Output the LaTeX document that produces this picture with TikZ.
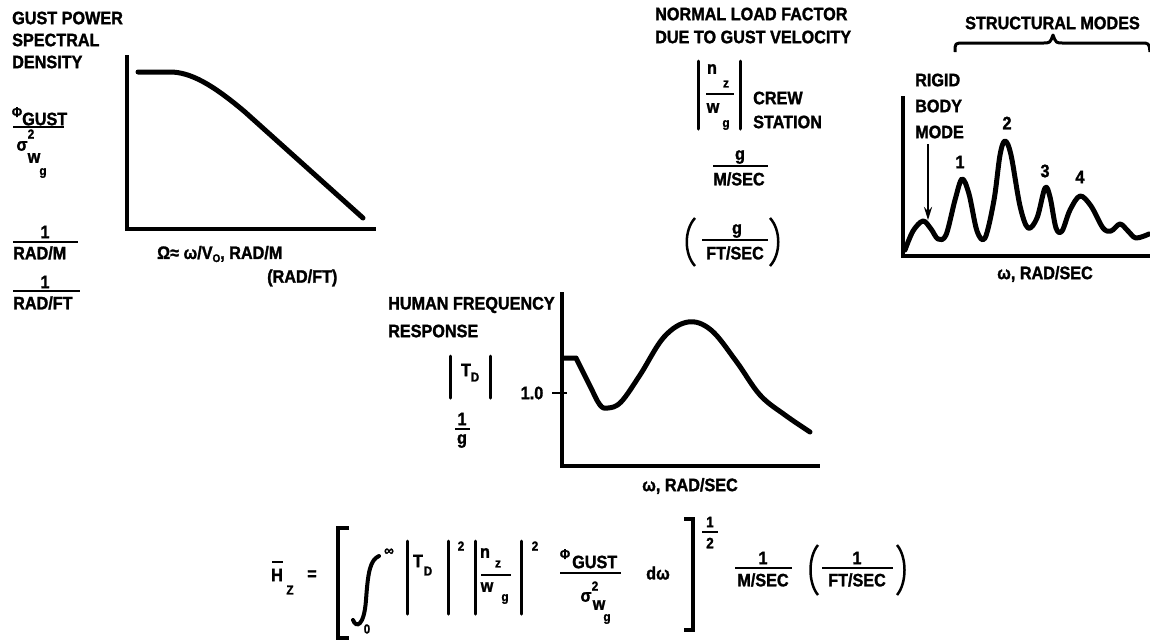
\documentclass[tikz,border=0pt]{standalone}
\usepackage{fontspec}
\setmainfont{Liberation Sans}[FakeStretch=0.9, BoldFeatures={FakeBold=1.5}]
\usetikzlibrary{arrows.meta}
\tikzset{
  lbl/.style={font=\bfseries\fontsize{18}{20}\selectfont, inner sep=0pt, anchor=west},
  lblc/.style={lbl, anchor=center},
  sub/.style={font=\bfseries\fontsize{13}{14}\selectfont, inner sep=0pt, anchor=center},
  mid/.style={font=\bfseries\fontsize{15}{16}\selectfont, inner sep=0pt, anchor=center},
  ax/.style={line width=4.5pt, line cap=rect},
  crv/.style={line width=5pt, line join=round, line cap=round},
  fr/.style={line width=2pt},
  vb/.style={line width=3pt, line cap=round},
  brk/.style={line width=3.5pt, line join=miter},
  paren/.style={line width=2.5pt},
}
\begin{document}
\begin{tikzpicture}[x=1pt,y=-1pt]
\useasboundingbox[fill=white] (0,0) rectangle (1150,641);

% ---------------- top-left: gust PSD ----------------
\node[lbl] (gp) at (12,18) {GUST POWER};
\node[lbl] (sp) at (12,40) {SPECTRAL};
\node[lbl] (dn) at (12,62) {DENSITY};
\node[sub,font=\bfseries\fontsize{14}{14}\selectfont] (phi1) at (17,112) {Φ};
\node[lbl] (gu1) at (22,119) {GUST};
\draw[fr] (13,127) -- (64,127);
\node[lblc] (sig1) at (22,146) {σ};
\node[sub] (two1) at (31,134) {2};
\node[lblc] (w1) at (34,158) {w};
\node[sub] (g1) at (43,173) {g};
\node[lblc] (one1) at (45,232) {1};
\draw[fr] (13,242) -- (78,242);
\node[lbl] (radm) at (13,253) {RAD/M};
\node[lblc] (one2) at (45,282) {1};
\draw[fr] (13,291) -- (80,291);
\node[lbl] (radft) at (13,303) {RAD/FT};

\draw[ax] (127,57) -- (127,229) -- (374,229);
\draw[crv] (138,72) -- (170,72) .. controls (190,72) and (212,84) .. (245,112) -- (363,218);
\node[lbl] (omg) at (157,254) {Ω≈ ω/V\raisebox{-3pt}{\fontsize{11}{11}\selectfont O}, RAD/M};
\node[lbl] (radft2) at (267,278) {(RAD/FT)};

% ---------------- top-middle: load factor ----------------
\node[lbl] (nlf) at (655,14) {NORMAL LOAD FACTOR};
\node[lbl] (dtg) at (655,37) {DUE TO GUST VELOCITY};
\draw[vb] (698,61) -- (698,129);
\draw[vb] (740,61) -- (740,129);
\node[lblc] (n1) at (712,69) {n};
\node[sub] (z1) at (726,84) {z};
\draw[fr] (706,94) -- (734,94);
\node[lblc] (w2) at (713,108) {w};
\node[sub] (g2) at (726,125) {g};
\node[lbl] (crew) at (753,98) {CREW};
\node[lbl] (stat) at (753,122) {STATION};
\node[lblc] (g3) at (740,157) {g};
\draw[fr] (713,166) -- (768,166);
\node[lblc] (msec) at (739,179) {M/SEC};
\node[lblc] (g4) at (737,231) {g};
\draw[fr] (702,240) -- (768,240);
\node[lblc] (ftsec) at (735,253) {FT/SEC};
\draw[paren] (695,218) .. controls (684,230) and (684,254) .. (695,266);
\draw[paren] (770,218) .. controls (781,230) and (781,254) .. (770,266);

% ---------------- top-right: structural modes ----------------
\node[lbl] (strm) at (965,23) {STRUCTURAL MODES};
\draw[line width=3pt, line join=round] (955,52) .. controls (955,43) .. (964,43) -- (1043,43)
   .. controls (1050,43) .. (1053,35) .. controls (1056,43) .. (1063,43) -- (1141,43)
   .. controls (1149,43) .. (1150,52);
\node[lbl] (rig) at (915,80) {RIGID};
\node[lbl] (body) at (915,106) {BODY};
\node[lbl] (mode) at (915,132) {MODE};
\coordinate (arS) at (928,144);
\coordinate (arE) at (928,220);
\draw[line width=2.5pt, -{Stealth[length=13pt,width=8pt]}] (arS) -- (arE);
\draw[ax] (903,98) -- (903,256) -- (1150,256);
\draw[crv] plot[smooth, tension=0.55] coordinates {
 (905,250) (913,231) (923,221) (931,229) (938,239) (946,235) (955,200) (962,179)
 (969,194) (977,231) (985,238) (994,200) (1000,155) (1005,141) (1011,155) (1020,206)
 (1028,228) (1037,218) (1045,188) (1050,197) (1056,228) (1062,231) (1070,210)
 (1080,196) (1091,206) (1103,228) (1111,231) (1120,224) (1128,231) (1136,238) (1149,234)};
\node[lblc] (m1) at (960,162) {1};
\node[lblc] (m2) at (1007,123) {2};
\node[lblc] (m3) at (1045,171) {3};
\node[lblc] (m4) at (1080,177) {4};
\node[lblc] (wrs1) at (1045,274) {ω, RAD/SEC};

% ---------------- middle: human frequency response ----------------
\node[lbl] (hfr) at (388,305) {HUMAN FREQUENCY};
\node[lbl] (resp) at (388,331) {RESPONSE};
\draw[vb] (450,356) -- (450,398);
\draw[vb] (490,356) -- (490,398);
\node[lblc] (t1) at (466,370) {T};
\node[sub] (d1) at (475,377) {D};
\node[lblc] (one3) at (462,419) {1};
\draw[fr] (455,429) -- (470,429);
\node[lblc] (g5) at (462,441) {g};
\node[lblc] (onept) at (532,393) {1.0};
\draw[line width=2.5pt] (552,393) -- (567,393);
\draw[ax] (562,294) -- (562,466) -- (818,466);
\draw[crv] (564,358) -- (576,358) plot[smooth, tension=0.6] coordinates {
 (576,358) (590,386) (600,405) (608,408) (621,402) (640,375) (664,337) (688,322)
 (711,330) (736,361) (760,395) (785,415) (810,432)};
\node[lblc] (wrs2) at (690,486) {ω, RAD/SEC};

% ---------------- bottom: formula ----------------
\node[lblc] (hz) at (277,575) {H};
\draw[line width=2pt] (272,562) -- (283,562);
\node[sub] (zz) at (290,590) {Z};
\node[lblc] (eq) at (312,575) {=};
\draw[brk] (349,528) -- (338,528) -- (338,638) -- (349,638);
\draw[line width=4pt, line cap=round] (353,620) .. controls (356,628) and (364,627) .. (366,600)
   .. controls (368,572) and (370,560) .. (379,556);
\node[mid] (inf) at (389,552) {∞};
\node[sub] (zero) at (367,629) {0};
\draw[vb] (407,541) -- (407,614);
\draw[vb] (448,541) -- (448,614);
\node[lblc] (t2) at (418,561) {T};
\node[sub] (d2) at (428,571) {D};
\node[sub] (sq1) at (461,546) {2};
\draw[vb] (475,541) -- (475,614);
\draw[vb] (521,541) -- (521,614);
\node[lblc] (n2) at (485,553) {n};
\node[sub] (z2) at (498,564) {z};
\draw[fr] (481,575) -- (511,575);
\node[lblc] (w3) at (487,587) {w};
\node[sub] (g6) at (505,599) {g};
\node[sub] (sq2) at (535,546) {2};
\node[sub,font=\bfseries\fontsize{14}{14}\selectfont] (phi2) at (565,554) {Φ};
\node[lbl] (gu2) at (572,562) {GUST};
\draw[fr] (560,573) -- (621,573);
\node[lblc] (sig2) at (586,597) {σ};
\node[sub] (two2) at (595,586) {2};
\node[lblc] (w4) at (599,605) {w};
\node[sub] (g7) at (607,619) {g};
\node[lblc] (dw) at (658,573) {dω};
\draw[brk] (684,519) -- (693,519) -- (693,630) -- (684,630);
\node[mid] (hn) at (710,522) {1};
\draw[fr] (702,532) -- (718,532);
\node[mid] (hd) at (710,543) {2};
\node[lblc] (one4) at (763,558) {1};
\draw[fr] (735,568) -- (792,568);
\node[lblc] (msec2) at (763,580) {M/SEC};
\node[lblc] (one5) at (857,558) {1};
\draw[fr] (822,568) -- (893,568);
\node[lblc] (ftsec2) at (857,580) {FT/SEC};
\draw[paren] (818,545) .. controls (808,557) and (808,583) .. (818,595);
\draw[paren] (897,545) .. controls (907,557) and (907,583) .. (897,595);
\end{tikzpicture}
\end{document}
